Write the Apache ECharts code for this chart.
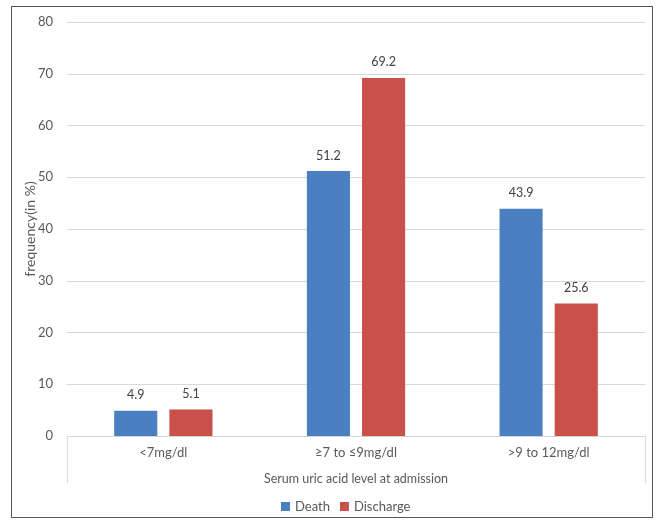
<!DOCTYPE html>
<html><head><meta charset="utf-8">
<script src="https://cdn.jsdelivr.net/npm/echarts@6/dist/echarts.min.js"></script>
<style>
html,body{margin:0;padding:0;background:#fff;}
#wrap{position:relative;width:657px;height:522px;}
#chart{position:absolute;left:0;top:0;width:657px;height:522px;}
#frame{position:absolute;left:11px;top:6px;width:642px;height:512px;border:1.5px solid #555;box-sizing:border-box;pointer-events:none;}
</style></head>
<body>
<div id="wrap"><div id="chart"></div><div id="frame"></div></div>
<script>
const categories = ['<7mg/dl', '\u22657 to \u22649mg/dl', '>9 to 12mg/dl'];
const deathValues = [4.9, 51.2, 43.9];
const dischargeValues = [5.1, 69.2, 25.6];
const seriesNames = ['Death', 'Discharge'];
const yAxisTitle = 'frequency(in %)';
const xAxisTitle = 'Serum uric acid level at admission';

const FONT = 'Lato';
const chart = echarts.init(document.getElementById('chart'));
chart.setOption({
  animation: false,
  textStyle: { fontFamily: FONT },
  grid: { left: 67, right: 12, top: 22, bottom: 86 },
  legend: {
    data: seriesNames, top: 495, left: 276,
    icon: 'rect', itemWidth: 9, itemHeight: 9, itemGap: 10,
    textStyle: { fontFamily: FONT, fontSize: 13, color: '#595959' }
  },
  xAxis: [{
    type: 'category', data: categories,
    axisLine: { lineStyle: { color: '#d9d9d9' } },
    axisTick: { show: false },
    axisLabel: { margin: 10, fontSize: 13, color: '#595959', fontFamily: FONT },
    name: xAxisTitle, nameLocation: 'middle', nameGap: 36, nameMoveOverlap: false,
    nameTextStyle: { fontSize: 12.5, color: '#595959', fontFamily: FONT }
  }, {
    type: 'value', min: 0, max: 1, interval: 1, position: 'bottom',
    axisLine: { show: false }, axisLabel: { show: false }, splitLine: { show: false },
    axisTick: { show: true, length: 47, lineStyle: { color: '#d9d9d9' } }
  }],
  yAxis: {
    type: 'value', min: 0, max: 80, interval: 10,
    axisLine: { show: false }, axisTick: { show: false },
    splitLine: { lineStyle: { color: '#d9d9d9' } },
    axisLabel: { margin: 14, fontSize: 13, color: '#595959', fontFamily: FONT },
    name: yAxisTitle, nameLocation: 'middle', nameGap: 30, nameMoveOverlap: false,
    nameTextStyle: { fontSize: 14, color: '#595959', fontFamily: FONT }
  },
  series: [{
    name: seriesNames[0], type: 'bar', data: deathValues,
    barGap: '28%', barCategoryGap: '49%',
    itemStyle: { color: '#4a7fc1' },
    label: { show: true, position: 'top', distance: 9, fontSize: 12.5, color: '#404040', fontFamily: FONT }
  }, {
    name: seriesNames[1], type: 'bar', data: dischargeValues,
    barGap: '28%', barCategoryGap: '49%',
    itemStyle: { color: '#c9504b' },
    label: { show: true, position: 'top', distance: 9, fontSize: 12.5, color: '#404040', fontFamily: FONT }
  }]
});
</script>
</body></html>
